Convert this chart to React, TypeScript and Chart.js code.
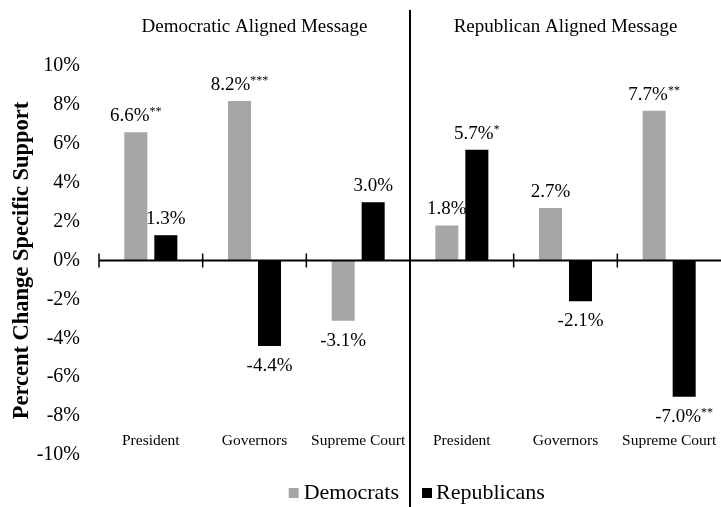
import React, { useEffect, useRef } from 'react';
import { Chart, registerables } from 'chart.js';

Chart.register(...registerables);

const categories = ['President', 'Governors', 'Supreme Court', 'President', 'Governors', 'Supreme Court'];
const panelTitles = ['Democratic Aligned Message', 'Republican Aligned Message'];
const seriesNames = ['Democrats', 'Republicans'];
const democrats = [6.6, 8.2, -3.1, 1.8, 2.7, 7.7];
const republicans = [1.3, -4.4, 3.0, 5.7, -2.1, -7.0];
const democratStars = ['**', '***', '', '', '', '**'];
const republicanStars = ['', '', '', '*', '', '**'];
const yAxisTitle = 'Percent Change Specific Support';
const yMin = -10;
const yMax = 10;
const yStep = 2;

const GRAY = '#A6A6A6';
const BLACK = '#000000';
const FONT = '"Liberation Serif", "Times New Roman", serif';

const starsBySeries = [democratStars, republicanStars];

const overlayPlugin = {
  id: 'overlay',
  afterDatasetsDraw(chart: any) {
    const { ctx, chartArea, scales } = chart;
    const xs = scales.x;
    const ys = scales.y;
    const y0 = ys.getPixelForValue(0);
    const n = categories.length;
    const half = (xs.getPixelForValue(1) - xs.getPixelForValue(0)) / 2;
    ctx.save();

    // zero axis line
    ctx.strokeStyle = BLACK;
    ctx.lineWidth = 2;
    ctx.beginPath();
    ctx.moveTo(chartArea.left, y0);
    ctx.lineTo(chartArea.right, y0);
    ctx.stroke();

    // category boundary tick marks
    ctx.lineWidth = 1.5;
    for (let i = 0; i < n; i++) {
      const bx = xs.getPixelForValue(i) - half;
      ctx.beginPath();
      ctx.moveTo(bx, y0 - 7);
      ctx.lineTo(bx, y0 + 7);
      ctx.stroke();
    }

    // divider between panels
    const dx = xs.getPixelForValue(2) + half;
    ctx.lineWidth = 2;
    ctx.beginPath();
    ctx.moveTo(dx, 10);
    ctx.lineTo(dx, chart.height);
    ctx.stroke();

    // panel titles
    ctx.fillStyle = BLACK;
    ctx.font = `19px ${FONT}`;
    ctx.textAlign = 'center';
    ctx.textBaseline = 'middle';
    ctx.fillText(panelTitles[0], (chartArea.left + dx) / 2, 27);
    ctx.fillText(panelTitles[1], (dx + chartArea.right) / 2, 27);

    // category labels
    ctx.font = `15.5px ${FONT}`;
    for (let i = 0; i < n; i++) {
      ctx.fillText(categories[i], xs.getPixelForValue(i), chartArea.bottom - 14);
    }

    // value labels
    chart.data.datasets.forEach((ds: any, d: number) => {
      const meta = chart.getDatasetMeta(d);
      meta.data.forEach((el: any, i: number) => {
        const v = ds.data[i] as number;
        const main = v.toFixed(1) + '%';
        const stars = starsBySeries[d][i];
        ctx.font = `19px ${FONT}`;
        const wMain = ctx.measureText(main).width;
        ctx.font = `12px ${FONT}`;
        const wStars = stars ? ctx.measureText(stars).width : 0;
        const total = wMain + wStars;
        const startX = el.x - total / 2;
        const cy = v >= 0 ? el.y - 16 : el.y + 20;
        ctx.textAlign = 'left';
        ctx.textBaseline = 'middle';
        ctx.font = `19px ${FONT}`;
        ctx.fillText(main, startX, cy);
        if (stars) {
          ctx.font = `12px ${FONT}`;
          ctx.textBaseline = 'alphabetic';
          ctx.fillText(stars, startX + wMain, cy - 1);
        }
      });
    });

    // legend
    ctx.font = `22px ${FONT}`;
    ctx.textBaseline = 'middle';
    ctx.textAlign = 'left';
    const ly = chart.height - 14;
    const w0 = ctx.measureText(seriesNames[0]).width;
    const t0 = dx - 11 - w0;
    ctx.fillStyle = chart.data.datasets[0].backgroundColor;
    ctx.fillRect(t0 - 15, ly - 5, 10, 10);
    ctx.fillStyle = BLACK;
    ctx.fillText(seriesNames[0], t0, ly);
    ctx.fillStyle = chart.data.datasets[1].backgroundColor;
    ctx.fillRect(dx + 12, ly - 5, 10, 10);
    ctx.fillStyle = BLACK;
    ctx.fillText(seriesNames[1], dx + 26, ly);

    ctx.restore();
  },
};

export default function App() {
  const canvasRef = useRef<HTMLCanvasElement | null>(null);

  useEffect(() => {
    document.body.style.margin = '0';
    const canvas = canvasRef.current;
    if (!canvas) return;
    const chart = new Chart(canvas, {
      type: 'bar',
      data: {
        labels: categories,
        datasets: [
          {
            label: seriesNames[0],
            data: democrats,
            backgroundColor: GRAY,
            categoryPercentage: 0.579,
            barPercentage: 0.767,
          },
          {
            label: seriesNames[1],
            data: republicans,
            backgroundColor: BLACK,
            categoryPercentage: 0.579,
            barPercentage: 0.767,
          },
        ],
      },
      options: {
        animation: false,
        responsive: false,
        maintainAspectRatio: false,
        devicePixelRatio: 1,
        layout: { padding: { top: 66, bottom: 52, left: 0, right: 0 } },
        plugins: {
          legend: { display: false },
          tooltip: { enabled: false },
          title: { display: false },
        },
        scales: {
          x: {
            display: false,
          },
          y: {
            min: yMin,
            max: yMax,
            grid: { display: false, drawTicks: false },
            border: { display: false },
            ticks: {
              stepSize: yStep,
              padding: 19,
              color: BLACK,
              font: { family: FONT, size: 20 },
              callback: (v: any) => `${v}%`,
            },
            title: {
              display: true,
              text: yAxisTitle,
              color: BLACK,
              font: { family: FONT, size: 22.5, weight: 'bold' },
              padding: { top: 9, bottom: 0 },
            },
            afterFit: (scale: any) => {
              scale.width = 99;
            },
          },
        },
      },
      plugins: [overlayPlugin],
    });
    return () => chart.destroy();
  }, []);

  return (
    <div style={{ width: 721, height: 507, background: '#fff' }}>
      <canvas ref={canvasRef} width={721} height={507} style={{ display: 'block' }} />
    </div>
  );
}
